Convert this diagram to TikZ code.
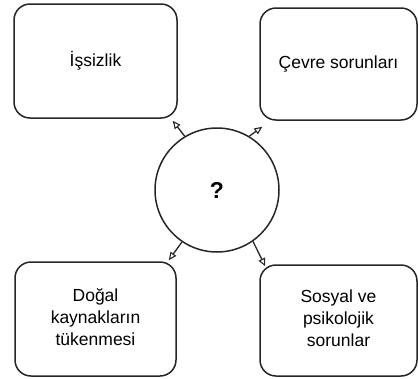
\documentclass[tikz,border=0pt]{standalone}
\usepackage{fontspec}
\setmainfont{Liberation Sans}
\usetikzlibrary{arrows.meta,calc}
\begin{document}
\begin{tikzpicture}[x=1pt,y=-1pt,
  box/.style={draw=black!85,line width=1.5pt,rounded corners=16pt,align=center,
    font=\fontsize{17.5}{22}\selectfont,inner sep=0pt},
  hub/.style={draw=black!85,line width=1.5pt,circle,minimum size=124pt,inner sep=0pt,
    font=\fontsize{23}{26}\selectfont\bfseries},
  arr/.style={line width=1.3pt,draw=black!85,-{Triangle[open,length=8pt,width=7pt,line width=1.1pt]}}]
\useasboundingbox (0,0) rectangle (418,378);
\node[box,minimum width=163pt,minimum height=114pt] (tl) at (95.5,61) {İşsizlik};
\node[box,minimum width=157pt,minimum height=112pt] (tr) at (338.5,64) {Çevre sorunları};
\node[box,minimum width=161pt,minimum height=114pt] (bl) at (95.5,319) {\raisebox{4pt}{\begin{tabular}{@{}c@{}}Doğal\\kaynakların\\tükenmesi\end{tabular}}};
\node[box,minimum width=157pt,minimum height=111pt] (br) at (338.5,320.5) {\begin{tabular}{@{}c@{}}Sosyal ve\\psikolojik\\sorunlar\end{tabular}};
\node[hub] (c) at (217,190) {?};
\draw[arr] (c.121) -- ([xshift=-5pt,yshift=-2pt]tl.south east);
\draw[arr] (c.59) -- ([xshift=3pt,yshift=-6pt]tr.south west);
\draw[arr] (c.236) -- ([xshift=-8pt,yshift=1pt]bl.north east);
\draw[arr] (c.305) -- ([xshift=6pt,yshift=-2pt]br.north west);
\end{tikzpicture}
\end{document}
